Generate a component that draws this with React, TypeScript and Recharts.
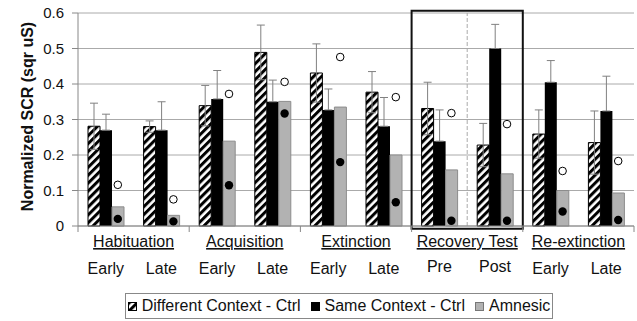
import React from 'react';
import {
  ComposedChart,
  Bar,
  Scatter,
  XAxis,
  YAxis,
  CartesianGrid,
  ErrorBar,
  ReferenceArea,
  ReferenceLine,
} from 'recharts';

// phase / stage per category
const phases = ['Habituation', 'Habituation', 'Acquisition', 'Acquisition', 'Extinction', 'Extinction', 'Recovery Test', 'Recovery Test', 'Re-extinction', 'Re-extinction'];
const stages = ['Early', 'Late', 'Early', 'Late', 'Early', 'Late', 'Pre', 'Post', 'Early', 'Late'];

// series values (normalized SCR, sqr uS)
const diffCtrl = [0.281, 0.28, 0.339, 0.489, 0.431, 0.377, 0.331, 0.228, 0.259, 0.235];
const diffErr = [0.065, 0.016, 0.057, 0.077, 0.082, 0.058, 0.074, 0.061, 0.068, 0.089];
const sameCtrl = [0.27, 0.27, 0.358, 0.35, 0.327, 0.281, 0.239, 0.5, 0.405, 0.324];
const sameErr = [0.045, 0.08, 0.08, 0.061, 0.059, 0.081, 0.088, 0.068, 0.061, 0.098];
const amnesic = [0.054, 0.03, 0.239, 0.351, 0.335, 0.2, 0.158, 0.147, 0.1, 0.093];
const openDots = [0.116, 0.075, 0.372, 0.406, 0.476, 0.363, 0.318, 0.287, 0.155, 0.183];
const filledDots = [0.02, 0.013, 0.115, 0.317, 0.18, 0.067, 0.015, 0.015, 0.041, 0.017];

const yTicks = [0, 0.1, 0.2, 0.3, 0.4, 0.5, 0.6];

const FONT = '"Liberation Sans", Arial, sans-serif';
const BAR = 12;

const data = stages.map((stage, i) => ({
  key: `${phases[i]}|${stage}`,
  phase: phases[i],
  stage,
  diff: diffCtrl[i],
  diffE: [diffErr[i], diffErr[i]],
  same: sameCtrl[i],
  sameE: [0, sameErr[i]],
  amn: amnesic[i],
  open: openDots[i],
  filled: filledDots[i],
}));

const CatTick = (props: any) => {
  const { x, y, payload } = props;
  const i = data.findIndex(d => d.key === payload.value);
  if (i < 0) return null;
  const d = data[i];
  const half = payload.offset || props.width / data.length / 2;
  const lift = d.phase === 'Recovery Test' ? 2 : 0;
  return (
    <g>
      <text x={x} y={y + 48 - lift} textAnchor="middle" fontSize={16} fill="#111">
        {d.stage}
      </text>
      {i % 2 === 0 && (
        <>
          <line x1={x - half} x2={x - half} y1={y} y2={y + 6} stroke="#888" />
          <text
            x={x + half}
            y={y + 21}
            textAnchor="middle"
            fontSize={16}
            fill="#111"
            style={{ textDecoration: 'underline' }}
          >
            {d.phase}
          </text>
        </>
      )}
      {i === data.length - 1 && (
        <line x1={x + half} x2={x + half} y1={y} y2={y + 6} stroke="#888" />
      )}
    </g>
  );
};

// dots sit over the amnesic (third) bar
const OpenDot = (p: any) => (
  <circle cx={p.cx + BAR} cy={p.cy} r={3.8} fill="#fff" stroke="#000" strokeWidth={1} />
);
const FilledDot = (p: any) => <circle cx={p.cx + BAR} cy={p.cy} r={4.2} fill="#000" />;

const legendItem = { display: 'flex', alignItems: 'center', gap: 5, whiteSpace: 'nowrap' as const, flexShrink: 0 };

export default function App() {
  const last = data[data.length - 1].key;
  return (
    <div style={{ position: 'absolute', left: 0, top: 0, width: 637, height: 321, background: '#fff', fontFamily: FONT }}>
      <svg width={0} height={0} style={{ position: 'absolute' }}>
        <defs>
          <pattern id="hatch" patternUnits="userSpaceOnUse" width={5.6} height={5.6} patternTransform="rotate(45)">
            <rect width={5.6} height={5.6} fill="#fff" />
            <rect width={3} height={5.6} fill="#000" />
          </pattern>
        </defs>
      </svg>
      <ComposedChart
        width={637}
        height={321}
        data={data}
        margin={{ top: 13, right: 3, bottom: 65, left: 8 }}
        barGap={0}
        style={{ fontFamily: FONT }}
      >
        <CartesianGrid vertical={false} stroke="#aaa" />
        <XAxis
          dataKey="key"
          interval={0}
          height={30}
          tickLine={false}
          tickSize={0}
          tickMargin={0}
          axisLine={{ stroke: '#888' }}
          tick={<CatTick />}
        />
        <YAxis
          domain={[0, 0.6]}
          ticks={yTicks}
          width={70}
          tickSize={6}
          tickMargin={8}
          axisLine={{ stroke: '#888' }}
          tickLine={{ stroke: '#888' }}
          tick={{ fontSize: 15, fill: '#111' }}
          tickFormatter={(v: number) => (v === 0 ? '0' : v.toFixed(1))}
          label={{
            value: 'Normalized SCR (sqr uS)',
            angle: -90,
            position: 'insideLeft',
            dx: 14,
            dy: -3,
            style: { textAnchor: 'middle', fontWeight: 'bold', fontSize: 16, fill: '#111' },
          }}
        />
        <ReferenceLine x={last} position="end" stroke="#999" />
        <ReferenceLine x={data[7].key} position="start" stroke="#aaa" strokeDasharray="4 2" />
        <Bar dataKey="diff" barSize={BAR} fill="url(#hatch)" stroke="#000" strokeWidth={1} isAnimationActive={false}>
          <ErrorBar dataKey="diffE" direction="y" width={4} stroke="#808080" strokeWidth={1} />
        </Bar>
        <Bar dataKey="same" barSize={BAR} fill="#000" isAnimationActive={false}>
          <ErrorBar dataKey="sameE" direction="y" width={4} stroke="#808080" strokeWidth={1} />
        </Bar>
        <Bar dataKey="amn" barSize={BAR} fill="#b2b2b2" stroke="#8c8c8c" strokeWidth={1} isAnimationActive={false} />
        <Scatter dataKey="open" shape={<OpenDot />} isAnimationActive={false} />
        <Scatter dataKey="filled" shape={<FilledDot />} isAnimationActive={false} />
        <ReferenceArea
          x1={data[6].key}
          x2={data[7].key}
          y1={-0.008}
          y2={0.606}
          ifOverflow="visible"
          fill="none"
          stroke="#111"
          strokeWidth={2}
        />
      </ComposedChart>
      <div
        style={{
          position: 'absolute',
          left: 125,
          top: 293,
          width: 428,
          height: 26,
          boxSizing: 'border-box',
          border: '1px solid #888',
          display: 'flex',
          alignItems: 'center',
          justifyContent: 'center',
          gap: 10,
          fontSize: 16,
          color: '#111',
        }}
      >
        <div style={legendItem}>
          <svg width={9} height={9}>
            <rect x={0.5} y={0.5} width={8} height={8} fill="url(#hatch)" stroke="#000" />
          </svg>
          <span>Different Context - Ctrl</span>
        </div>
        <div style={legendItem}>
          <svg width={9} height={9}>
            <rect x={0.5} y={0.5} width={8} height={8} fill="#000" stroke="#000" />
          </svg>
          <span>Same Context - Ctrl</span>
        </div>
        <div style={legendItem}>
          <svg width={9} height={9}>
            <rect x={0.5} y={0.5} width={8} height={8} fill="#b2b2b2" stroke="#777" />
          </svg>
          <span>Amnesic</span>
        </div>
      </div>
    </div>
  );
}
